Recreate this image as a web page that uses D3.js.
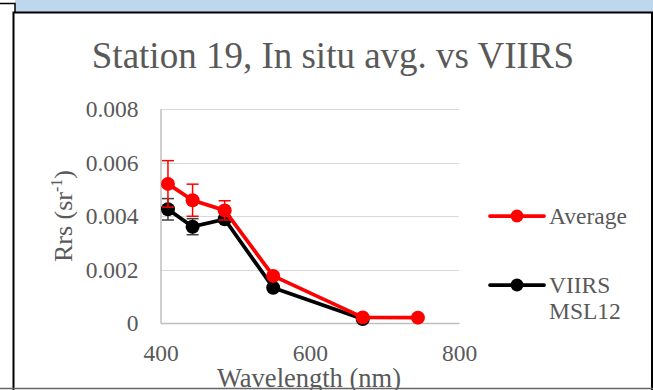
<!DOCTYPE html>
<html><head><meta charset="utf-8">
<script src="https://cdn.jsdelivr.net/npm/d3@7"></script>
<style>body{margin:0;background:#fff}svg{display:block}
svg text{font-family:"Liberation Serif","Times New Roman","DejaVu Serif",serif}</style>
</head><body>
<script>
const wavelengths = [410, 443, 486, 551, 671, 745];
const averageValues = [0.0052, 0.00459, 0.00421, 0.00176, 0.00021, 0.0002];
const averageErrors = [0.00087, 0.0006, 0.00036, 0.0001, 0.00005, 0.00005];
const viirsWavelengths = [410, 443, 486, 551, 671];
const viirsValues = [0.00425, 0.0036, 0.00388, 0.00132, 0.00015];
const viirsErrors = [0.0004, 0.0003, 0.00012, 0.00005, 0.00003];
const xTicks = [400, 600, 800];
const yTicks = [0, 0.002, 0.004, 0.006, 0.008];
const seriesNames = ["Average", ["VIIRS", "MSL12"]];

const W = 653, H = 390;
const svg = d3.select("body").append("svg").attr("width", W).attr("height", H);
const textCol = "#595959";
const tickSize = 23.5;

// frame
svg.append("rect").attr("x", 15).attr("y", 0).attr("width", W - 15).attr("height", 12).attr("fill", "#bdd7ee");
svg.append("path").attr("d", "M0,3.5H15V12").attr("fill", "none").attr("stroke", "#000").attr("stroke-width", 1.5);

const x = d3.scaleLinear().domain([400, 800]).range([160.5, 459]);
const y = d3.scaleLinear().domain([0, 0.008]).range([323, 109]);

// gridlines
svg.append("g").selectAll("line").data(yTicks.filter(d => d > 0)).join("line")
  .attr("x1", x(400)).attr("x2", x(800)).attr("y1", d => Math.round(y(d)) + 0.5).attr("y2", d => Math.round(y(d)) + 0.5)
  .attr("stroke", "#d9d9d9").attr("stroke-width", 1);

const yAxis = svg.append("g").attr("transform", `translate(${x(400)},0)`)
  .call(d3.axisLeft(y).tickValues(yTicks).tickSize(0).tickPadding(22).tickFormat(d => d === 0 ? "0" : d3.format(".3f")(d)));
yAxis.attr("font-family", null).attr("font-size", null);
yAxis.select(".domain").attr("stroke", "#bfbfbf").attr("stroke-width", 1.5);
yAxis.selectAll("text").attr("font-size", tickSize).attr("fill", textCol);

const xAxis = svg.append("g").attr("transform", `translate(0,${y(0)})`)
  .call(d3.axisBottom(x).tickValues(xTicks).tickSize(0).tickPadding(21).tickFormat(d3.format("d")));
xAxis.attr("font-family", null).attr("font-size", null);
xAxis.select(".domain").attr("stroke", "#bfbfbf").attr("stroke-width", 1.5);
xAxis.selectAll("text").attr("font-size", tickSize).attr("fill", textCol);

// title
svg.append("text").attr("x", 333).attr("y", 68).attr("text-anchor", "middle")
  .attr("font-size", 37).attr("fill", textCol)
  .text("Station 19, In situ avg. vs VIIRS");

// axis titles
const yt = svg.append("text").attr("transform", "translate(72,216) rotate(-90)").attr("text-anchor", "middle")
  .attr("font-size", 26).attr("fill", textCol);
yt.append("tspan").text("Rrs (sr");
yt.append("tspan").attr("font-size", 16).attr("dy", -10).text("-1");
yt.append("tspan").attr("dy", 10).text(")");

svg.append("text").attr("x", 309).attr("y", 387).attr("text-anchor", "middle")
  .attr("font-size", 26.5).attr("fill", textCol).text("Wavelength (nm)");

function drawSeries(xs, vals, errs, color, errColor) {
  const g = svg.append("g");
  const capW = 6;
  xs.forEach((w, i) => {
    const x0 = x(w), y1 = y(vals[i] + errs[i]), y2 = y(vals[i] - errs[i]);
    g.append("line").attr("x1", x0).attr("x2", x0).attr("y1", y1).attr("y2", y2).attr("stroke", errColor).attr("stroke-width", 1.5);
    g.append("line").attr("x1", x0 - capW).attr("x2", x0 + capW).attr("y1", y1).attr("y2", y1).attr("stroke", errColor).attr("stroke-width", 1.5);
    g.append("line").attr("x1", x0 - capW).attr("x2", x0 + capW).attr("y1", y2).attr("y2", y2).attr("stroke", errColor).attr("stroke-width", 1.5);
  });
  const line = d3.line().x((d, i) => x(xs[i])).y(d => y(d));
  g.append("path").attr("d", line(vals)).attr("fill", "none").attr("stroke", color).attr("stroke-width", 3.75).attr("stroke-linejoin", "round");
  g.selectAll("circle").data(vals).join("circle").attr("cx", (d, i) => x(xs[i])).attr("cy", d => y(d)).attr("r", 7).attr("fill", color);
}
drawSeries(viirsWavelengths, viirsValues, viirsErrors, "#000", "#404040");
drawSeries(wavelengths, averageValues, averageErrors, "#ff0000", "#ff0000");

// legend
const legend = [{ name: seriesNames[0], color: "#ff0000", y: 216 }, { name: seriesNames[1], color: "#000", y: 285 }];
legend.forEach(l => {
  svg.append("line").attr("x1", 490).attr("x2", 544).attr("y1", l.y).attr("y2", l.y).attr("stroke", l.color).attr("stroke-width", 3.75).attr("stroke-linecap", "round");
  svg.append("circle").attr("cx", 517).attr("cy", l.y).attr("r", 6.5).attr("fill", l.color);
  const names = Array.isArray(l.name) ? l.name : [l.name];
  names.forEach((n, i) => {
    svg.append("text").attr("x", 549).attr("y", l.y + 8 + i * 26).attr("font-size", tickSize).attr("fill", textCol).text(n);
  });
});

// frame borders on top
svg.append("path").attr("d", `M13.5,390V12.5H652V390`).attr("fill", "none").attr("stroke", "#000").attr("stroke-width", 2);
svg.append("line").attr("x1", 0).attr("x2", W).attr("y1", 388.5).attr("y2", 388.5).attr("stroke", "#666").attr("stroke-width", 1.5);
</script>
</body></html>
